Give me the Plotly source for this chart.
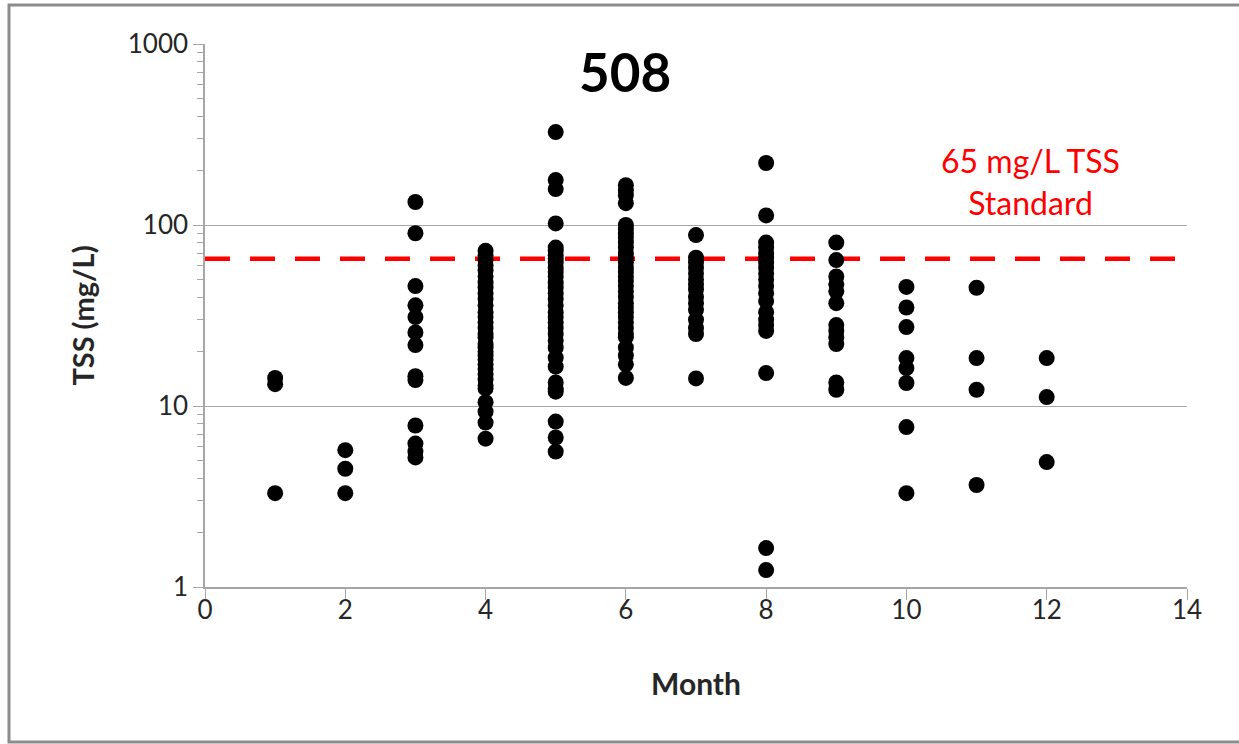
import plotly.graph_objects as go

months = [1, 2, 3, 4, 5, 6, 7, 8, 9, 10, 11, 12]
tss_by_month = {
    1: [14.3, 13.2, 3.3],
    2: [5.7, 4.5, 3.3],
    3: [134, 90, 46, 36, 31, 25.5, 21.7, 14.6, 13.9, 7.8, 6.2, 5.6, 5.2],
    4: [72, 68, 64, 60, 56, 52, 48, 45, 42, 39, 36, 33, 31, 29, 27, 25, 24, 22, 21, 20,
        19, 18, 17, 16, 15, 14, 13, 12.5, 10.5, 9.3, 8.1, 6.6],
    5: [326, 177, 158, 102, 75, 72, 68, 65, 62, 58, 55, 52, 48, 45, 42, 39, 36, 33, 31,
        29, 27, 25, 23, 21, 18.5, 16.5, 13.5, 12.5, 12, 8.2, 6.7, 5.6],
    6: [166, 155, 146, 132, 100, 95, 90, 85, 80, 75, 70, 66, 62, 58, 55, 52, 49, 46, 43,
        40, 37, 35, 33, 31, 29, 27, 25, 24, 21, 19, 17, 14.3],
    7: [88, 66, 62, 58, 54, 50, 47, 44, 40, 37, 34, 30, 27, 25, 14.2],
    8: [220, 113, 80, 75, 70, 66, 62, 58, 54, 50, 46, 42, 38, 33, 30, 28, 26, 15.2, 1.64, 1.24],
    9: [80, 64, 52, 47, 43, 37, 28, 26, 24, 22, 13.5, 12.3],
    10: [45.5, 35, 27.3, 18.4, 16.2, 13.4, 7.65, 3.3],
    11: [45, 18.4, 12.3, 3.66],
    12: [18.4, 11.2, 4.9],
}
standard_value = 65
standard_label = "65 mg/L TSS<br>Standard"
title_text = "508"
x_label = "Month"
y_label = "TSS (mg/L)"
x_ticks = [0, 2, 4, 6, 8, 10, 12, 14]
y_ticks = [1, 10, 100, 1000]
y_minor_ticks = [2, 3, 4, 5, 6, 7, 8, 9, 20, 30, 40, 50, 60, 70, 80, 90,
                 200, 300, 400, 500, 600, 700, 800, 900]

xs, ys = [], []
for m in months:
    for v in tss_by_month[m]:
        xs.append(m)
        ys.append(v)

FONT = "Lato, 'Open Sans', sans-serif"
TXT = "#262626"
AX = "#a6a6a6"
fig = go.Figure()
fig.add_trace(go.Scatter(
    x=[x_ticks[0], x_ticks[-1]], y=[standard_value, standard_value], mode="lines",
    line=dict(color="#ff0000", width=4.5, dash="25px,20px"), hoverinfo="skip",
    showlegend=False))
fig.add_trace(go.Scatter(
    x=xs, y=ys, mode="markers",
    marker=dict(color="black", size=16), showlegend=False))

fig.update_layout(
    width=1239, height=744,
    margin=dict(l=205, r=52, t=44, b=157, autoexpand=False),
    paper_bgcolor="white", plot_bgcolor="white",
    font=dict(family=FONT, color=TXT),
    showlegend=False,
)
fig.update_xaxes(
    range=[0, 14], tickvals=x_ticks, ticks="outside", ticklen=11, tickcolor=AX,
    showline=True, linecolor=AX, linewidth=1.5, showgrid=False, zeroline=False,
    tickfont=dict(size=26, family=FONT, color=TXT), ticklabelstandoff=-12,
    automargin=False,
    title=dict(text="<b>" + x_label + "</b>", font=dict(size=30, family=FONT, color=TXT),
               standoff=50),
)
fig.update_yaxes(
    type="log", range=[0, 3], tickvals=y_ticks, ticktext=[str(t) for t in y_ticks],
    ticks="outside", ticklen=10, tickcolor=AX,
    minor=dict(ticks="outside", ticklen=6, tickcolor=AX, showgrid=False,
               tickvals=y_minor_ticks),
    showline=True, linecolor=AX, linewidth=1.5,
    showgrid=True, gridcolor=AX, gridwidth=1.2, zeroline=False,
    tickfont=dict(size=26, family=FONT, color=TXT), automargin=False,
    title=dict(text="<b>" + y_label + "</b>", font=dict(size=29, family=FONT, color=TXT),
               standoff=25),
)
fig.add_annotation(
    text="<b>" + title_text + "</b>", xref="paper", yref="paper",
    x=(625 - 205) / 982, y=(587 - 71) / 543, xanchor="center", yanchor="middle",
    showarrow=False, font=dict(size=53, family=FONT, color="black"))
fig.add_annotation(
    text=standard_label, xref="paper", yref="paper",
    x=(1030 - 205) / 982, y=(587 - 181) / 543, xanchor="center", yanchor="middle",
    showarrow=False, font=dict(size=32, family=FONT, color="#ff0000"))
fig.add_shape(
    type="rect", xref="paper", yref="paper",
    x0=(9 - 205) / 982, x1=(1400 - 205) / 982, y0=(587 - 742) / 543, y1=(587 - 5) / 543,
    line=dict(color="#8c8c8c", width=3), fillcolor="rgba(0,0,0,0)", layer="below")

fig.write_html("out.html", post_script="document.body.style.margin='0';",
               config={"displayModeBar": False})
